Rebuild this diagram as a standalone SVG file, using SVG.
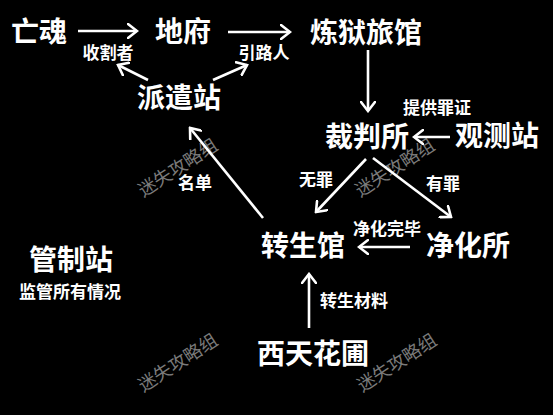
<svg xmlns="http://www.w3.org/2000/svg" width="553" height="415" viewBox="0 0 553 415">
<style>
text{font-family:"Noto Sans CJK SC","Noto Sans",sans-serif;font-weight:bold;fill:#fff;text-anchor:middle}
.n{font-size:28px}
.l{font-size:17px}
.w{font-size:18px;font-weight:normal;fill:#7a7a7a}
.c line{stroke:#fff;stroke-width:2.6;marker-end:url(#a)}
</style>
<defs>
<marker id="a" markerUnits="userSpaceOnUse" viewBox="-10 -8 12 16" refX="0" refY="0" markerWidth="12" markerHeight="16" orient="auto">
<polyline points="-9,-7 0,0 -9,7" fill="none" stroke="#fff" stroke-width="2.6" stroke-linecap="round" stroke-linejoin="miter"/>
</marker>
</defs>
<rect width="553" height="415" fill="#000"/>
<g id="watermarks">
<text class="w" transform="translate(178,168) rotate(-33)" y="6">迷失攻略组</text>
<text class="w" transform="translate(395,168) rotate(-33)" y="6">迷失攻略组</text>
<text class="w" transform="translate(178,363) rotate(-33)" y="6">迷失攻略组</text>
<text class="w" transform="translate(397,363) rotate(-33)" y="6">迷失攻略组</text>
</g>
<g class="c" id="connectors">
<line x1="78" y1="31" x2="137" y2="31"/>
<line x1="228" y1="32" x2="290" y2="32"/>
<line x1="368" y1="50" x2="368" y2="111"/>
<line x1="148" y1="80" x2="118" y2="65"/>
<line x1="213" y1="80" x2="247" y2="65"/>
<line x1="450" y1="137" x2="414" y2="137"/>
<line x1="366" y1="159" x2="316" y2="212"/>
<line x1="373" y1="158" x2="451" y2="217"/>
<line x1="263" y1="218" x2="190" y2="128"/>
<line x1="410" y1="247" x2="359" y2="247"/>
<line x1="309" y1="328" x2="309" y2="274"/>
</g>
<g id="n-wanghun"><text class="n" x="39" y="42">亡魂</text></g>
<g id="n-difu"><text class="n" x="183" y="42">地府</text></g>
<g id="n-lianyu"><text class="n" x="366" y="43">炼狱旅馆</text></g>
<g id="n-paiqian"><text class="n" x="179" y="108">派遣站</text></g>
<g id="n-caipan"><text class="n" x="367" y="146.5">裁判所</text></g>
<g id="n-guance"><text class="n" x="497" y="145.5">观测站</text></g>
<g id="n-zhuansheng"><text class="n" x="303" y="255.5">转生馆</text></g>
<g id="n-jinghua"><text class="n" x="468" y="255.5">净化所</text></g>
<g id="n-guanzhi"><text class="n" x="71" y="270">管制站</text><text class="l" x="70" y="297.5">监管所有情况</text></g>
<g id="n-xitian"><text class="n" x="313" y="364">西天花圃</text></g>
<g id="labels">
<text class="l" x="108" y="58.5">收割者</text>
<text class="l" x="264" y="58.5">引路人</text>
<text class="l" x="437" y="113.5">提供罪证</text>
<text class="l" x="316" y="185.5">无罪</text>
<text class="l" x="443" y="189.5">有罪</text>
<text class="l" x="195" y="188.5">名单</text>
<text class="l" x="387" y="234.5">净化完毕</text>
<text class="l" x="354" y="306.5">转生材料</text>
</g>
</svg>
